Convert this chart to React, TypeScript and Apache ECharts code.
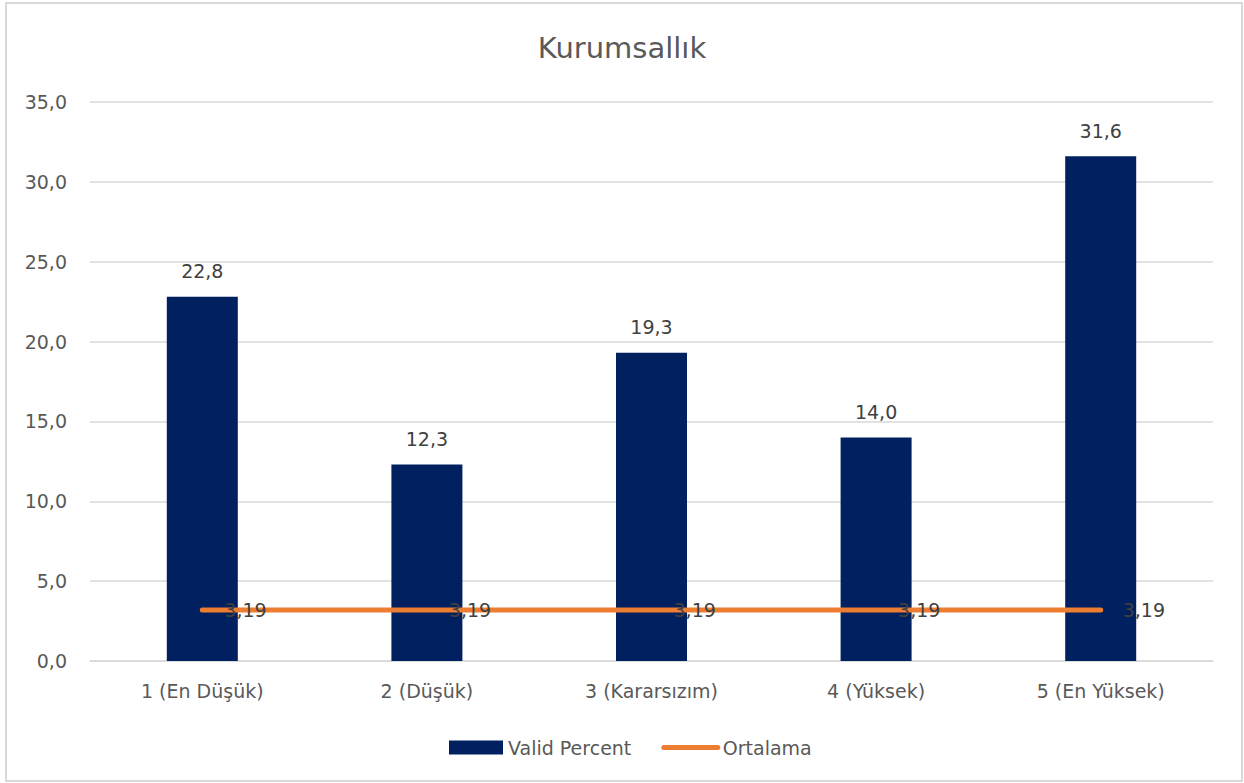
import React, { useEffect, useRef } from "react";
import * as echarts from "echarts";

const categories = ["1 (En Düşük)", "2 (Düşük)", "3 (Kararsızım)", "4 (Yüksek)", "5 (En Yüksek)"];
const validPercent = [22.8, 12.3, 19.3, 14.0, 31.6];
const ortalama = [3.19, 3.19, 3.19, 3.19, 3.19];
const titleText = "Kurumsallık";
const seriesNames = ["Valid Percent", "Ortalama"];

const FONT = "DejaVu Sans";
const comma1 = (v: number) => v.toFixed(1).replace(".", ",");
const comma2 = (v: number) => v.toFixed(2).replace(".", ",");

export default function App() {
  const ref = useRef<HTMLDivElement>(null);
  useEffect(() => {
    document.body.style.margin = "0";
    const chart = echarts.init(ref.current!, null, { renderer: "svg" });
    chart.setOption({
      animation: false,
      backgroundColor: "#FFFFFF",
      textStyle: { fontFamily: FONT },
      title: {
        text: titleText,
        left: "center",
        top: 28,
        textStyle: { fontFamily: FONT, fontSize: 29, fontWeight: "normal", color: "#595959" },
      },
      graphic: [
        {
          type: "rect",
          shape: { x: 6, y: 3, width: 1236, height: 778 },
          style: { fill: "none", stroke: "#D9D9D9", lineWidth: 2 },
          silent: true,
        },
      ],
      legend: {
        left: 444,
        top: 733,
        itemWidth: 54,
        itemHeight: 14,
        itemGap: 30,
        textStyle: { fontFamily: FONT, fontSize: 19, color: "#595959" },
        data: [
          { name: seriesNames[0], icon: "rect" },
          {
            name: seriesNames[1],
            itemStyle: { opacity: 0 },
            lineStyle: { width: 5, color: "#ED7D31", cap: "round" },
          },
        ],
      },
      grid: { left: 90, right: 31, top: 102, bottom: 122, containLabel: false },
      xAxis: {
        type: "category",
        data: categories,
        axisLine: { lineStyle: { color: "#D9D9D9", width: 1.5 } },
        axisTick: { show: false },
        axisLabel: { fontFamily: FONT, fontSize: 19, color: "#595959", margin: 20 },
      },
      yAxis: {
        type: "value",
        min: 0,
        max: 35,
        interval: 5,
        axisLine: { show: false },
        axisTick: { show: false },
        splitLine: { lineStyle: { color: "#D9D9D9", width: 1.5 } },
        axisLabel: {
          fontFamily: FONT,
          fontSize: 19,
          color: "#595959",
          margin: 23,
          formatter: (v: number) => comma1(v),
        },
      },
      series: [
        {
          name: seriesNames[0],
          type: "bar",
          data: validPercent,
          barWidth: 71,
          itemStyle: { color: "#002060" },
          label: {
            show: true,
            position: "top",
            distance: 16,
            fontFamily: FONT,
            fontSize: 19,
            color: "#404040",
            formatter: (p: any) => comma1(p.value),
          },
        },
        {
          name: seriesNames[1],
          type: "line",
          data: ortalama,
          symbol: "circle",
          symbolSize: 0,
          itemStyle: { color: "#ED7D31" },
          lineStyle: { color: "#ED7D31", width: 5, cap: "round" },
          label: {
            show: true,
            position: "right",
            distance: 22,
            fontFamily: FONT,
            fontSize: 19,
            color: "#404040",
            formatter: (p: any) => comma2(p.value),
          },
          z: 3,
        },
      ],
    });
    return () => chart.dispose();
  }, []);
  return <div ref={ref} style={{ position: "absolute", left: 0, top: 0, width: 1244, height: 783 }} />;
}
